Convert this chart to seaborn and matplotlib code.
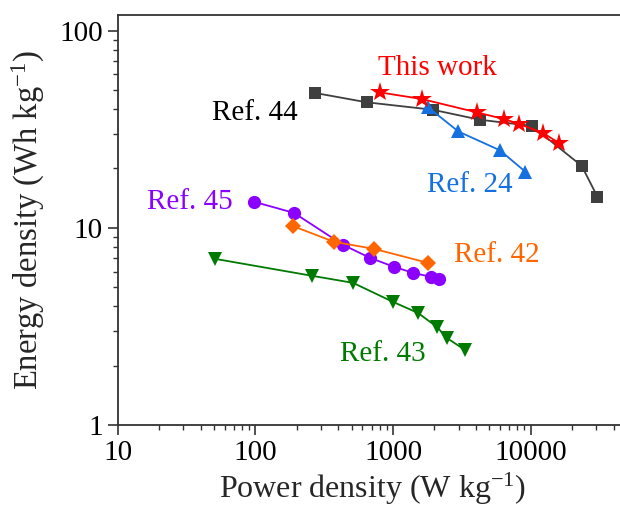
import pandas as pd
import seaborn as sns
import matplotlib.pyplot as plt
from matplotlib.ticker import FuncFormatter, LogLocator

# values (W/kg, Wh/kg)
this_p = [805, 1616, 4055, 6400, 8185, 12350, 16050]
this_e = [48.6, 45.0, 38.5, 35.6, 33.7, 30.2, 26.9]

ref44_p = [271, 644, 1942, 4285, 10170, 23450, 30460]
ref44_e = [48.3, 43.3, 39.7, 35.3, 32.9, 20.6, 14.4]

ref24_p = [1786, 2980, 5985, 9090]
ref24_e = [41.0, 30.8, 24.7, 19.3]

ref45_p = [98, 191, 433, 681, 1017, 1397, 1888, 2158]
ref45_e = [13.55, 11.9, 8.2, 7.04, 6.34, 5.91, 5.64, 5.51]

ref42_p = [188, 373, 728, 1796]
ref42_e = [10.2, 8.49, 7.82, 6.64]

ref43_p = [51, 258, 512, 1000, 1519, 2087, 2466, 3334]
ref43_e = [6.96, 5.71, 5.26, 4.21, 3.70, 3.14, 2.76, 2.40]

sns.set_style('ticks')
plt.rcParams['font.family'] = ['Liberation Serif', 'DejaVu Serif']
plt.rcParams['mathtext.default'] = 'regular'
plt.rcParams['axes.unicode_minus'] = False

fig = plt.figure(figsize=(6.2, 5.12), dpi=100)
ax = fig.add_axes([0.1897, 0.1699, 0.8216, 0.8008])

# (label, x, y, line colour, text colour, marker, markersize, label position)
series = [
    ('Ref. 44', ref44_p, ref44_e, '#3f3f3f', '#000000', 's', 9, (255, 113)),
    ('Ref. 24', ref24_p, ref24_e, '#1570E0', '#1570E0', '^', 10.5, (470, 185)),
    ('This work', this_p, this_e, '#FF0000', '#FF0000', '*', 15, (437, 68)),
    ('Ref. 45', ref45_p, ref45_e, '#8B00FF', '#8B00FF', 'o', 9.5, (190, 202)),
    ('Ref. 42', ref42_p, ref42_e, '#FF6600', '#FF6600', 'D', 8.5, (497, 255)),
    ('Ref. 43', ref43_p, ref43_e, '#007A00', '#007A00', 'v', 10.5, (383, 354)),
]

for name, xs, ys, col, tcol, mk, ms, pos in series:
    df = pd.DataFrame({'p': xs, 'e': ys})
    sns.lineplot(data=df, x='p', y='e', ax=ax, color=col, marker=mk,
                 markersize=ms, markeredgewidth=0, linewidth=1.3,
                 sort=False, estimator=None)
    # label placed in figure pixel coords
    fig.text(pos[0] / 620, 1 - pos[1] / 512, name, color=tcol, fontsize=21,
             ha='center', va='center')

ax.set_xscale('log')
ax.set_yscale('log')
ax.set_xlim(10, 50000)
ax.set_ylim(1, 120)

fmt = FuncFormatter(lambda v, p: f'{v:.0f}')
ax.xaxis.set_major_formatter(fmt)
ax.yaxis.set_major_formatter(fmt)
ax.xaxis.set_minor_locator(LogLocator(base=10, subs=range(2, 10)))
ax.yaxis.set_minor_locator(LogLocator(base=10, subs=range(2, 10)))
ax.xaxis.set_minor_formatter(plt.NullFormatter())
ax.yaxis.set_minor_formatter(plt.NullFormatter())

ax.tick_params(which='major', direction='out', length=7, width=1.2,
               labelsize=21, colors='#333333', labelcolor='black')
ax.tick_params(which='minor', direction='out', length=3.5, width=1,
               colors='#333333')

for s in ['left', 'bottom', 'top']:
    ax.spines[s].set_linewidth(1.3)
    ax.spines[s].set_color('#333333')
ax.spines['right'].set_visible(False)

ax.set_xlabel('Power density (W kg$^{-1}$)', fontsize=23, labelpad=4)
ax.set_ylabel('Energy density (Wh kg$^{-1}$)', fontsize=23.5, labelpad=9)

fig.savefig('out.png', dpi=100)
